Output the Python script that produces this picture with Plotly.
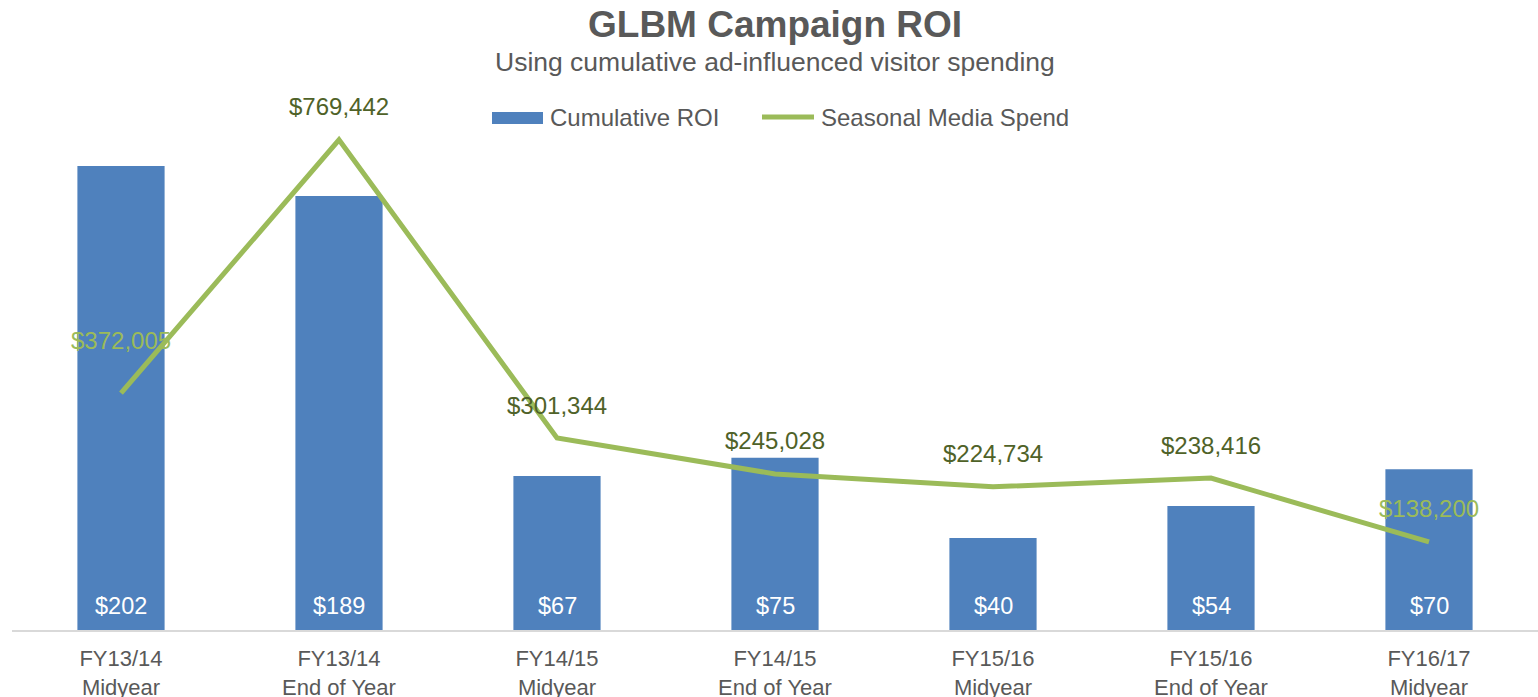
import plotly.graph_objects as go

categories = ["FY13/14<br>Midyear", "FY13/14<br>End of Year", "FY14/15<br>Midyear",
              "FY14/15<br>End of Year", "FY15/16<br>Midyear", "FY15/16<br>End of Year",
              "FY16/17<br>Midyear"]
roi = [202, 189, 67, 75, 40, 54, 70]
media_spend = [372005, 769442, 301344, 245028, 224734, 238416, 138200]
series_names = ["Cumulative ROI", "Seasonal Media Spend"]

BLUE = "#4F81BD"
GREEN = "#9BBB59"
DARK_GREEN = "#4F6228"
GRAY = "#595959"
FONT = "Liberation Sans, Arial, sans-serif"

W, H = 1538, 697
L, R, T, B = 12, 0, 90, 67
PW, PH = W - L - R, H - T - B


def px_x(px):
    return (px - L) / PW


def px_y(py):
    return (H - B - py) / PH


fig = go.Figure()
fig.add_trace(go.Bar(x=categories, y=roi, name=series_names[0],
                     marker=dict(color=BLUE, line=dict(width=0)), yaxis="y",
                     showlegend=False))
fig.add_trace(go.Scatter(x=categories, y=media_spend, name=series_names[1],
                         mode="lines", line=dict(color=GREEN, width=5), yaxis="y2",
                         showlegend=False))

# bar labels (white, near base)
for c, v in zip(categories, roi):
    fig.add_annotation(x=c, y=0, xref="x", yref="y", text=f"${v:,}", showarrow=False,
                       yanchor="middle", yshift=24,
                       font=dict(family=FONT, size=23.5, color="white"))

# line labels
light_idx = {0, 6}
for i, (c, v) in enumerate(zip(categories, media_spend)):
    color = GREEN if i in light_idx else DARK_GREEN
    shift = 53 if i == 0 else 33
    fig.add_annotation(x=c, y=v, xref="x", yref="y2", text=f"${v:,}", showarrow=False,
                       yanchor="middle", yshift=shift,
                       font=dict(family=FONT, size=24, color=color))

# title and subtitle
fig.add_annotation(x=px_x(775), y=px_y(25), xref="paper", yref="paper",
                   text="<b>GLBM Campaign ROI</b>", showarrow=False,
                   xanchor="center", yanchor="middle",
                   font=dict(family=FONT, size=37, color=GRAY))
fig.add_annotation(x=px_x(775), y=px_y(62), xref="paper", yref="paper",
                   text="Using cumulative ad-influenced visitor spending", showarrow=False,
                   xanchor="center", yanchor="middle",
                   font=dict(family=FONT, size=26.5, color=GRAY))

# manual legend
fig.add_shape(type="rect", xref="paper", yref="paper",
              x0=px_x(492), x1=px_x(543), y0=px_y(124), y1=px_y(112),
              fillcolor=BLUE, line=dict(width=0))
fig.add_annotation(x=px_x(548), y=px_y(118), xref="paper", yref="paper",
                   text=series_names[0], showarrow=False, xanchor="left", yanchor="middle",
                   font=dict(family=FONT, size=24, color=GRAY))
fig.add_shape(type="line", xref="paper", yref="paper",
              x0=px_x(762), x1=px_x(814), y0=px_y(117), y1=px_y(117),
              line=dict(color=GREEN, width=5))
fig.add_annotation(x=px_x(819), y=px_y(118), xref="paper", yref="paper",
                   text=series_names[1], showarrow=False, xanchor="left", yanchor="middle",
                   font=dict(family=FONT, size=24, color=GRAY))

fig.update_layout(
    width=W, height=H,
    margin=dict(l=L, r=R, t=T, b=B, autoexpand=False),
    paper_bgcolor="white", plot_bgcolor="white",
    font=dict(family=FONT, color=GRAY, size=22),
    bargap=0.6,
    showlegend=False,
    xaxis=dict(showgrid=False, showline=True, linecolor="#D9D9D9", linewidth=2,
               ticks="", ticklabelstandoff=8, automargin=False,
               tickfont=dict(family=FONT, size=22, color=GRAY)),
    yaxis=dict(range=[0, 235.1], visible=False, showgrid=False, automargin=False),
    yaxis2=dict(range=[0, 847700], visible=False, showgrid=False, overlaying="y",
                side="right", automargin=False),
)

fig.write_html("out.html", post_script="document.body.style.margin='0';",
               config={"displayModeBar": False})
